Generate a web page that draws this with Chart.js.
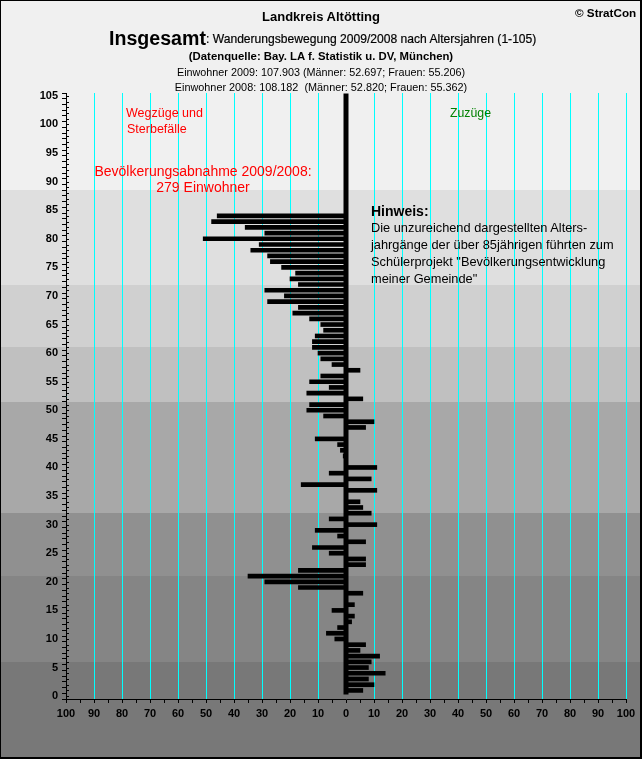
<!DOCTYPE html>
<html lang="de">
<head>
<meta charset="utf-8">
<title>Landkreis Altötting</title>
<style>
    html, body { margin: 0; padding: 0; background: #f0f0f0; }
    #wrap { position: relative; width: 642px; height: 759px; overflow: hidden; font-family: "Liberation Sans", Arial, sans-serif; color: #000; }
    #wrap canvas { position: absolute; left: 0; top: 0; }
    #rahmen { position: absolute; left: 0; top: 0; width: 639px; height: 756px; border: solid #000; border-width: 1px 2px 2px 1px; box-shadow: 1px 1px 0 #fff; pointer-events: none; }
    .t { position: absolute; white-space: pre; line-height: 1; }
    .mitte { transform: translateX(-50%); }
</style>
</head>
<body>
<div id="wrap">
    <canvas id="myChart" width="642" height="759"></canvas>
    <div id="rahmen"></div>
    <div class="t mitte" style="left:321px;top:9px;font:bold 13px 'Liberation Sans'">Landkreis Altötting</div>
    <div class="t" style="left:575px;top:6px;font:bold 11.7px 'Liberation Sans'">© StratCon</div>
    <div class="t" style="left:109px;top:27px;font:bold 19.6px 'Liberation Sans'">Insgesamt</div>
    <div class="t" style="left:206px;top:32px;font:12.1px 'Liberation Sans';-webkit-text-stroke:0.2px #000">: Wanderungsbewegung 2009/2008 nach Altersjahren (1-105)</div>
    <div class="t mitte" style="left:321px;top:50px;font:bold 11.35px 'Liberation Sans'">(Datenquelle: Bay. LA f. Statistik u. DV, München)</div>
    <div class="t mitte" style="left:321px;top:66px;font:10.8px 'Liberation Sans'">Einwohner 2009: 107.903 (Männer: 52.697; Frauen: 55.206)</div>
    <div class="t mitte" style="left:321px;top:81px;font:10.85px 'Liberation Sans'">Einwohner 2008: 108.182  (Männer: 52.820; Frauen: 55.362)</div>
    <div class="t" style="left:126px;top:106px;font:12.5px 'Liberation Sans';color:#f00">Wegzüge und</div>
    <div class="t" style="left:127px;top:122px;font:12.5px 'Liberation Sans';color:#f00">Sterbefälle</div>
    <div class="t" style="left:450px;top:106px;font:12.3px 'Liberation Sans';color:#008000">Zuzüge</div>
    <div class="t mitte" style="left:203px;top:163px;font:14px 'Liberation Sans';color:#f00">Bevölkerungsabnahme 2009/2008:</div>
    <div class="t mitte" style="left:203px;top:179px;font:14px 'Liberation Sans';color:#f00">279 Einwohner</div>
    <div class="t" style="left:371px;top:203px;font:bold 14px 'Liberation Sans'">Hinweis:</div>
    <div class="t" style="left:371px;top:220px;font:12.8px 'Liberation Sans'">Die unzureichend dargestellten Alters-</div>
    <div class="t" style="left:371px;top:237px;font:12.8px 'Liberation Sans'">jahrgänge der über 85jährigen führten zum</div>
    <div class="t" style="left:371px;top:254px;font:12.8px 'Liberation Sans'">Schülerprojekt "Bevölkerungsentwicklung</div>
    <div class="t" style="left:371px;top:271px;font:12.8px 'Liberation Sans'">meiner Gemeinde"</div>
</div>
<script src="https://cdn.jsdelivr.net/npm/chart.js@4"></script>
<script>
// Altersjahre 1-84
const alter = [
    1, 2, 3, 4, 5, 6, 7, 8, 9, 10, 11, 12, 13, 14, 15, 16, 17, 18, 19, 20,
    21, 22, 23, 24, 25, 26, 27, 28, 29, 30, 31, 32, 33, 34, 35, 36, 37, 38, 39, 40,
    41, 42, 43, 44, 45, 46, 47, 48, 49, 50, 51, 52, 53, 54, 55, 56, 57, 58, 59, 60,
    61, 62, 63, 64, 65, 66, 67, 68, 69, 70, 71, 72, 73, 74, 75, 76, 77, 78, 79, 80,
    81, 82, 83, 84
];
// Saldo je Altersjahr (negativ = Wegzüge und Sterbefälle)
const saldo = [
    6, 10, 8, 14, 8, 9, 12, 5, 7, -4, -7, -3, 2, 3, -5, 3, 0, 6, -17, -29,
    -35, -17, 7, 7, -6, -12, 7, -3, -11, 11, -6, 9, 6, 5, 0, 11, -16, 9, -6, 11,
    0, -1, -2, -3, -11, 0, 7, 10, -8, -14, -13, 6, -14, -6, -13, -9, 5, -5, -9, -10,
    -12, -12, -11, -8, -9, -13, -19, -17, -28, -22, -29, -17, -20, -18, -23, -27, -28, -34, -31, -51,
    -29, -36, -48, -46
];
// schwarze Mittelachse
const achseAlter = [0.3, 105.4];
const achseWert = [0, 0];

// Grauabstufungen des Hintergrunds, von oben nach unten
const bandGrenzen = [88.5, 72, 61, 51.5, 32, 21, 6];
const bandFarben = ["#f0f0f0", "#dfdfdf", "#d0d0d0", "#c0c0c0", "#a8a8a8", "#909090", "#858585", "#787878"];

const hintergrund = {
    id: "hintergrund",
    beforeDraw(chart) {
        const ctx = chart.ctx;
        const yAchse = chart.scales.y;
        let oben = 0;
        bandFarben.forEach((farbe, i) => {
            const unten = i < bandGrenzen.length ? Math.round(yAchse.getPixelForValue(bandGrenzen[i])) : chart.height;
            ctx.fillStyle = farbe;
            ctx.fillRect(0, oben, chart.width, unten - oben);
            oben = unten;
        });
    }
};

// Teilstriche der y-Achse ragen auch nach rechts über die Achse
const yStriche = {
    id: "yStriche",
    afterDraw(chart) {
        const ctx = chart.ctx;
        const yAchse = chart.scales.y;
        const links = chart.chartArea.left;
        ctx.fillStyle = "#000";
        yAchse.ticks.forEach(tick => {
            ctx.fillRect(links, Math.round(yAchse.getPixelForValue(tick.value)), 3, 1);
        });
    }
};

new Chart(document.getElementById("myChart").getContext("2d"), {
    type: "bar",
    data: {
        datasets: [
            {
                data: alter.map((a, i) => ({ x: saldo[i], y: a })),
                backgroundColor: "#000",
                barThickness: 4,
                order: 2
            },
            {
                type: "line",
                data: achseAlter.map((a, i) => ({ x: achseWert[i], y: a })),
                borderColor: "#000",
                borderWidth: 5,
                pointRadius: 0,
                clip: false,
                order: 1
            }
        ]
    },
    options: {
        indexAxis: "y",
        responsive: false,
        animation: false,
        layout: { padding: { left: 0, top: 93, right: 16, bottom: 0 } },
        plugins: { legend: { display: false }, tooltip: { enabled: false } },
        scales: {
            x: {
                type: "linear",
                min: -100,
                max: 100,
                afterFit(scale) { scale.height = 60; },
                border: { color: "#000", width: 1 },
                grid: {
                    color: ctx => (ctx.tick.value % 10 === 0 && ctx.tick.value !== 0) ? "#00ffff" : "transparent",
                    lineWidth: 1,
                    tickColor: "#000",
                    tickWidth: 1,
                    tickLength: 4
                },
                ticks: {
                    stepSize: 5,
                    autoSkip: false,
                    maxRotation: 0,
                    padding: 4,
                    color: "#000",
                    font: { family: "Liberation Sans", size: 11, weight: "bold" },
                    callback: v => (v % 10 === 0 ? String(Math.abs(v)) : "")
                }
            },
            y: {
                type: "linear",
                min: 0,
                max: 105,
                afterFit(scale) { scale.width = 66; },
                border: { color: "#000", width: 1 },
                grid: { drawOnChartArea: false, tickColor: "#000", tickWidth: 1, tickLength: 4 },
                ticks: {
                    stepSize: 1,
                    autoSkip: false,
                    padding: 4,
                    color: "#000",
                    font: { family: "Liberation Sans", size: 11, weight: "bold" },
                    callback: v => (v % 5 === 0 ? String(v) : "")
                }
            }
        }
    },
    plugins: [hintergrund, yStriche]
});
</script>
</body>
</html>
